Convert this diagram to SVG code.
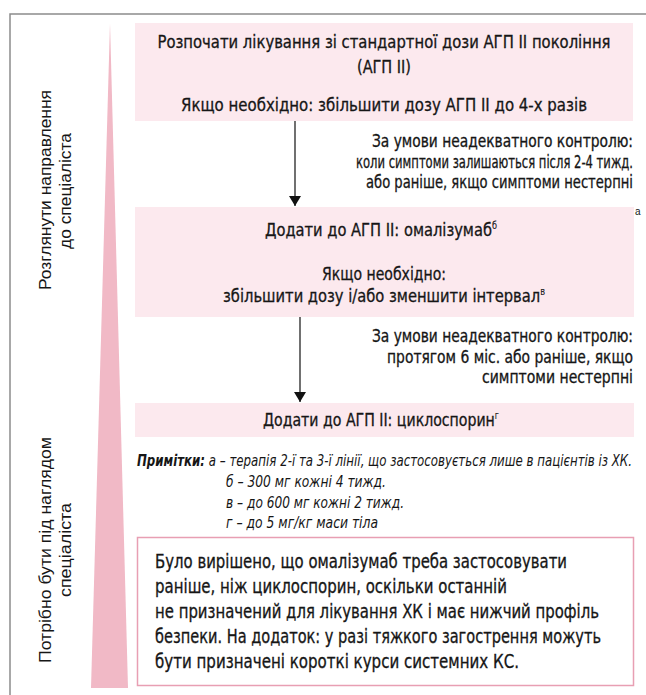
<svg xmlns="http://www.w3.org/2000/svg" width="646" height="695" viewBox="0 0 646 695">
<defs>
<style>
.t{font-family:"Liberation Sans Narrow","DejaVu Sans Condensed","Liberation Sans",Arial,sans-serif;font-stretch:condensed;font-size:18px;fill:#161616;stroke:#161616;stroke-width:0.3}
.k{font-size:17px}
.b{font-size:19px}
.c{text-anchor:middle}
.r{text-anchor:end}
.v{font-family:"Liberation Sans",Arial,sans-serif;font-size:17px;fill:#161616;text-anchor:middle}
.n{font-family:"Liberation Sans Narrow","DejaVu Sans Condensed","Liberation Sans",Arial,sans-serif;font-stretch:condensed;font-size:15px;font-style:italic;fill:#161616}
.box{fill:#fce9ee}
.sup{font-size:10px;stroke-width:0.1}
.fn{font-family:"Liberation Sans",Arial,sans-serif;font-size:10px;fill:#161616}
.conn{stroke:#111;stroke-width:1.2;fill:none}
</style>
<marker id="ah" viewBox="0 0 10 12" refX="10" refY="6" markerWidth="10" markerHeight="12" markerUnits="userSpaceOnUse" orient="auto">
<path d="M0,0 L10,6 L0,12 Z" fill="#111"/>
</marker>
</defs>
<rect width="646" height="695" fill="#fff"/>
<path d="M10,695 V14 H646" fill="none" stroke="#8c8c8c" stroke-width="1.5"/>
<polygon points="110,23 128,688 91,688" fill="#f1b9c6"/>

<g id="side-top">
<text class="v" transform="translate(51,190) rotate(-90)" textLength="200" lengthAdjust="spacingAndGlyphs">Розглянути направлення</text>
<text class="v" transform="translate(71,191) rotate(-90)" textLength="116" lengthAdjust="spacingAndGlyphs">до спеціаліста</text>
</g>
<g id="side-bottom">
<text class="v" transform="translate(51,550) rotate(-90)" textLength="226" lengthAdjust="spacingAndGlyphs">Потрібно бути під наглядом</text>
<text class="v" transform="translate(71,550) rotate(-90)" textLength="94" lengthAdjust="spacingAndGlyphs">спеціаліста</text>
</g>

<g id="step1">
<rect class="box" x="135" y="23" width="498" height="98"/>
<text class="t c" x="384" y="48" textLength="453" lengthAdjust="spacingAndGlyphs">Розпочати лікування зі стандартної дози АГП II покоління</text>
<text class="t c" x="384" y="73" textLength="54" lengthAdjust="spacingAndGlyphs">(АГП II)</text>
<text class="t c" x="384" y="111" textLength="406" lengthAdjust="spacingAndGlyphs">Якщо необхідно: збільшити дозу АГП II до 4-х разів</text>
</g>

<g id="cond1">
<text class="t k r" x="633" y="147" textLength="261" lengthAdjust="spacingAndGlyphs">За умови неадекватного контролю:</text>
<text class="t k r" x="633" y="168" textLength="277" lengthAdjust="spacingAndGlyphs">коли симптоми залишаються після 2-4 тижд.</text>
<text class="t k r" x="633" y="188" textLength="267" lengthAdjust="spacingAndGlyphs">або раніше, якщо симптоми нестерпні</text>
</g>

<g id="step2">
<rect class="box" x="135" y="207" width="499" height="110"/>
<text class="t c" x="381" y="236" textLength="232" lengthAdjust="spacingAndGlyphs">Додати до АГП II: омалізумаб<tspan class="sup" dy="-7">б</tspan></text>
<text class="t c" x="384" y="280" textLength="124" lengthAdjust="spacingAndGlyphs">Якщо необхідно:</text>
<text class="t c" x="384" y="302" textLength="322" lengthAdjust="spacingAndGlyphs">збільшити дозу і/або зменшити інтервал<tspan class="sup" dy="-7">в</tspan></text>
<text class="fn" x="635" y="215">а</text>
</g>

<g id="cond2">
<text class="t k r" x="633" y="342" textLength="261" lengthAdjust="spacingAndGlyphs">За умови неадекватного контролю:</text>
<text class="t k r" x="633" y="363" textLength="246" lengthAdjust="spacingAndGlyphs">протягом 6 міс. або раніше, якщо</text>
<text class="t k r" x="633" y="383" textLength="151" lengthAdjust="spacingAndGlyphs">симптоми нестерпні</text>
</g>

<g id="step3">
<rect class="box" x="135" y="403" width="499" height="34"/>
<text class="t c" x="381" y="426" textLength="236" lengthAdjust="spacingAndGlyphs">Додати до АГП II: циклоспорин<tspan class="sup" dy="-7">г</tspan></text>
</g>

<g id="notes">
<text class="n" x="137" y="466" textLength="495" lengthAdjust="spacingAndGlyphs"><tspan font-weight="bold">Примітки:</tspan> а – терапія 2-ї та 3-ї лінії, що застосовується лише в пацієнтів із ХК.</text>
<text class="n" x="226" y="487" textLength="160" lengthAdjust="spacingAndGlyphs">б – 300 мг кожні 4 тижд.</text>
<text class="n" x="226" y="508" textLength="178" lengthAdjust="spacingAndGlyphs">в – до 600 мг кожні 2 тижд.</text>
<text class="n" x="226" y="528" textLength="152" lengthAdjust="spacingAndGlyphs">г – до 5 мг/кг маси тіла</text>
</g>

<g id="comment">
<rect x="137.5" y="537.5" width="496" height="148" fill="#fff" stroke="#e89fb3" stroke-width="1.5"/>
<text class="t b" x="155" y="568" textLength="412" lengthAdjust="spacingAndGlyphs">Було вирішено, що омалізумаб треба застосовувати</text>
<text class="t b" x="155" y="593" textLength="352" lengthAdjust="spacingAndGlyphs">раніше, ніж циклоспорин, оскільки останній</text>
<text class="t b" x="155" y="618" textLength="444" lengthAdjust="spacingAndGlyphs">не призначений для лікування ХК і має нижчий профіль</text>
<text class="t b" x="155" y="643" textLength="446" lengthAdjust="spacingAndGlyphs">безпеки. На додаток: у разі тяжкого загострення можуть</text>
<text class="t b" x="155" y="668" textLength="364" lengthAdjust="spacingAndGlyphs">бути призначені короткі курси системних КС.</text>
</g>

<g id="connectors">
<line class="conn" x1="295" y1="121" x2="295" y2="206" marker-end="url(#ah)"/>
<line class="conn" x1="300" y1="317" x2="300" y2="402" marker-end="url(#ah)"/>
</g>
</svg>
